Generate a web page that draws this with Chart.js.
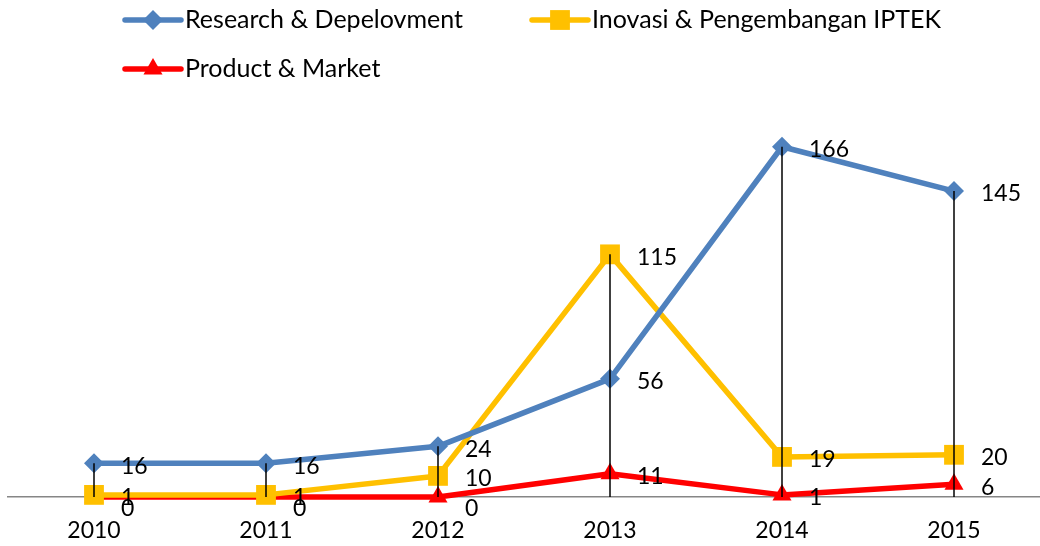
<!DOCTYPE html>
<html>
<head>
<meta charset="utf-8">
<script src="https://cdn.jsdelivr.net/npm/chart.js@4/dist/chart.umd.min.js"></script>
<style>
  html, body { margin: 0; padding: 0; background: #fff; }
  #wrap { position: relative; width: 1040px; height: 546px; }
</style>
</head>
<body>
<div id="wrap"><canvas id="chart" width="1040" height="546"></canvas></div>
<script>
// data
const years = ["2010", "2011", "2012", "2013", "2014", "2015"];
const research = [16, 16, 24, 56, 166, 145];
const inovasi = [1, 1, 10, 115, 19, 20];
const product = [0, 0, 0, 11, 1, 6];
const seriesNames = ["Research & Depelovment", "Inovasi & Pengembangan IPTEK", "Product & Market"];

const FONT = "Lato, 'Noto Sans', sans-serif";
const FONT_SIZE = 23;
const LEGEND_FONT_SIZE = 25;

// legend drawn in the top band, like the office chart
const legendSlots = [
  { x: 125, y: 20 },
  { x: 532, y: 20 },
  { x: 125, y: 69 }
];

function drawMarker(ctx, style, x, y, r, color) {
  ctx.save();
  ctx.fillStyle = color;
  ctx.beginPath();
  if (style === "rectRot") {
    ctx.moveTo(x, y - r); ctx.lineTo(x + r, y); ctx.lineTo(x, y + r); ctx.lineTo(x - r, y);
  } else if (style === "rect") {
    const s = r * Math.SQRT1_2;
    ctx.rect(x - s, y - s, 2 * s, 2 * s);
  } else {
    ctx.moveTo(x, y - r);
    ctx.lineTo(x + r * Math.sin(Math.PI / 3), y + r / 2);
    ctx.lineTo(x - r * Math.sin(Math.PI / 3), y + r / 2);
  }
  ctx.closePath();
  ctx.fill();
  ctx.restore();
}

const officeLegend = {
  id: "officeLegend",
  afterDraw(chart) {
    const ctx = chart.ctx;
    chart.data.datasets.forEach((ds, i) => {
      const s = legendSlots[i];
      ctx.save();
      ctx.strokeStyle = ds.borderColor;
      ctx.lineWidth = 5.5;
      ctx.lineCap = "round";
      ctx.beginPath();
      ctx.moveTo(s.x, s.y);
      ctx.lineTo(s.x + 56, s.y);
      ctx.stroke();
      drawMarker(ctx, ds.pointStyle, s.x + 28, s.y, ds.pointRadius, ds.borderColor);
      ctx.fillStyle = "#000";
      ctx.font = LEGEND_FONT_SIZE + "px " + FONT;
      ctx.textBaseline = "middle";
      ctx.textAlign = "left";
      ctx.fillText(ds.label, s.x + 60, s.y);
      ctx.restore();
    });
  }
};

// vertical drop lines from the highest point down to the axis
const dropLines = {
  id: "dropLines",
  afterDatasetsDraw(chart) {
    const ctx = chart.ctx;
    const y0 = chart.scales.y.getPixelForValue(0);
    ctx.save();
    ctx.strokeStyle = "#000";
    ctx.lineWidth = 1.5;
    years.forEach((_, i) => {
      let top = y0;
      chart.data.datasets.forEach((ds, d) => {
        const p = chart.getDatasetMeta(d).data[i];
        if (p.y < top) top = p.y;
      });
      const x = chart.scales.x.getPixelForValue(i);
      ctx.beginPath();
      ctx.moveTo(x, top);
      ctx.lineTo(x, y0);
      ctx.stroke();
    });
    ctx.restore();
  }
};

// value labels to the right of each point
const valueLabels = {
  id: "valueLabels",
  afterDraw(chart) {
    const ctx = chart.ctx;
    ctx.save();
    ctx.fillStyle = "#000";
    ctx.font = FONT_SIZE + "px " + FONT;
    ctx.textBaseline = "middle";
    ctx.textAlign = "left";
    chart.data.datasets.forEach((ds, d) => {
      chart.getDatasetMeta(d).data.forEach((p, i) => {
        const v = ds.data[i];
        const dy = v === 0 ? 12 : 3;
        ctx.fillText(String(v), p.x + 27, p.y + dy);
      });
    });
    ctx.restore();
  }
};

const chart = new Chart(document.getElementById("chart"), {
  type: "line",
  data: {
    labels: years,
    datasets: [
      {
        label: seriesNames[0], data: research,
        borderColor: "#4F81BD", backgroundColor: "#4F81BD",
        pointStyle: "rectRot", pointRadius: 10, clip: false
      },
      {
        label: seriesNames[1], data: inovasi,
        borderColor: "#FFC000", backgroundColor: "#FFC000",
        pointStyle: "rect", pointRadius: 14, clip: false
      },
      {
        label: seriesNames[2], data: product,
        borderColor: "#FF0000", backgroundColor: "#FF0000",
        pointStyle: "triangle", pointRadius: 11, clip: false
      }
    ]
  },
  options: {
    responsive: false,
    animation: false,
    layout: { autoPadding: false, padding: { top: 75, left: 8, right: 0, bottom: 0 } },
    elements: {
      line: { borderWidth: 5.5, tension: 0, borderJoinStyle: "round" },
      point: { borderWidth: 0, hoverRadius: 10 }
    },
    plugins: {
      legend: { display: false },
      tooltip: { enabled: false }
    },
    scales: {
      x: {
        offset: true,
        grid: { display: false, drawTicks: false },
        border: { display: true, color: "#868686", width: 1.5 },
        ticks: { color: "#000", font: { family: FONT, size: FONT_SIZE }, padding: 20, maxRotation: 0 },
        afterFit(scale) { scale.height = 49; }
      },
      y: {
        display: false,
        min: 0,
        max: 200
      }
    }
  },
  plugins: [dropLines, valueLabels, officeLegend]
});
</script>
</body>
</html>
